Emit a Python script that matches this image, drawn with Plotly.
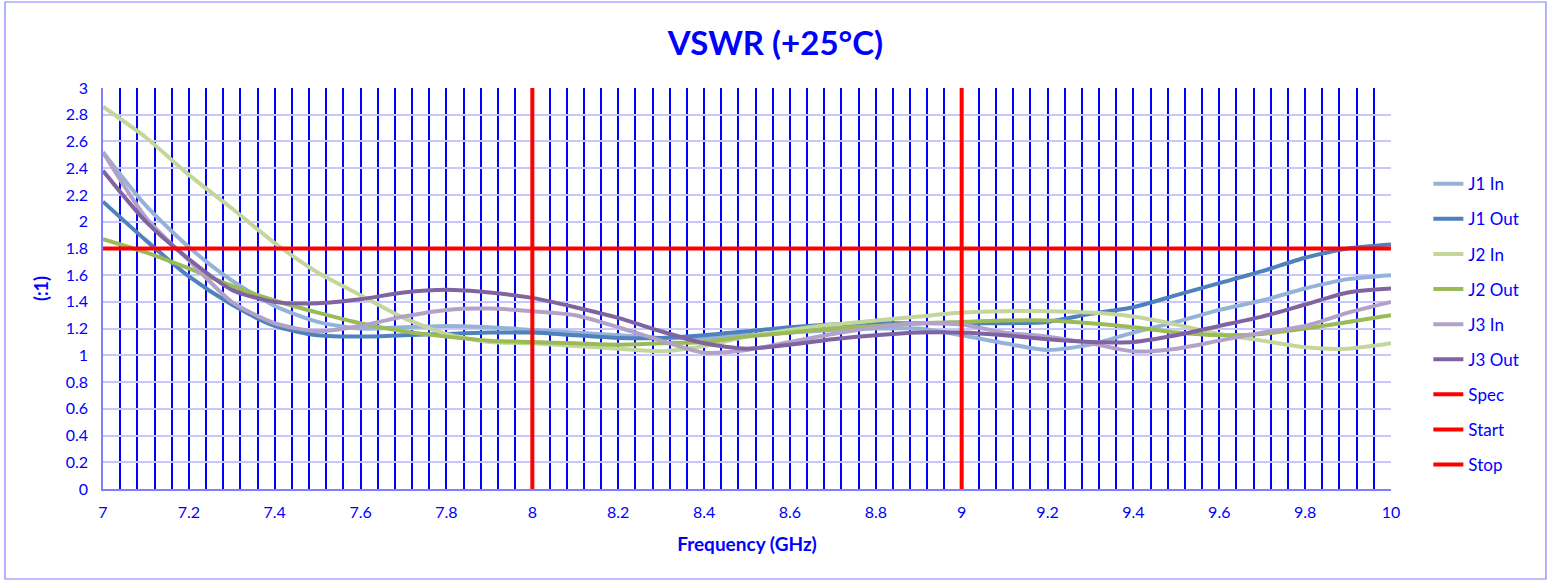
import plotly.graph_objects as go

# frequency points (GHz)
freq = [7.0, 7.1, 7.2, 7.3, 7.4, 7.5, 7.6, 7.7, 7.8, 7.9, 8.0,
        8.1, 8.2, 8.3, 8.4, 8.5, 8.6, 8.7, 8.8, 8.9, 9.0,
        9.1, 9.2, 9.3, 9.4, 9.5, 9.6, 9.7, 9.8, 9.9, 10.0]

# VSWR readings per port
j1_in = [2.52, 2.12, 1.81, 1.56, 1.37, 1.25, 1.20, 1.21, 1.22, 1.21, 1.19,
         1.17, 1.15, 1.13, 1.13, 1.15, 1.17, 1.19, 1.20, 1.20, 1.15,
         1.09, 1.04, 1.08, 1.17, 1.25, 1.34, 1.41, 1.50, 1.57, 1.60]
j1_out = [2.15, 1.86, 1.59, 1.38, 1.22, 1.15, 1.14, 1.15, 1.16, 1.17, 1.17,
          1.15, 1.13, 1.13, 1.15, 1.18, 1.21, 1.23, 1.24, 1.24, 1.24,
          1.24, 1.25, 1.31, 1.36, 1.45, 1.54, 1.63, 1.73, 1.80, 1.83]
j2_in = [2.86, 2.63, 2.35, 2.10, 1.84, 1.62, 1.45, 1.28, 1.16, 1.10, 1.09,
         1.07, 1.05, 1.03, 1.07, 1.14, 1.19, 1.23, 1.26, 1.29, 1.32,
         1.33, 1.33, 1.32, 1.29, 1.23, 1.16, 1.11, 1.06, 1.05, 1.09]
j2_out = [1.87, 1.77, 1.65, 1.52, 1.41, 1.32, 1.24, 1.18, 1.14, 1.11, 1.10,
          1.09, 1.08, 1.09, 1.10, 1.14, 1.17, 1.20, 1.22, 1.24, 1.25,
          1.26, 1.26, 1.24, 1.21, 1.17, 1.15, 1.16, 1.20, 1.25, 1.30]
j3_in = [2.52, 2.03, 1.71, 1.40, 1.24, 1.18, 1.22, 1.29, 1.34, 1.35, 1.33,
         1.30, 1.21, 1.11, 1.02, 1.04, 1.10, 1.16, 1.21, 1.24, 1.23,
         1.17, 1.14, 1.09, 1.03, 1.05, 1.11, 1.17, 1.22, 1.32, 1.40]
j3_out = [2.38, 2.00, 1.72, 1.49, 1.40, 1.39, 1.42, 1.47, 1.49, 1.47, 1.43,
          1.36, 1.28, 1.18, 1.09, 1.05, 1.08, 1.12, 1.15, 1.17, 1.17,
          1.15, 1.12, 1.10, 1.10, 1.15, 1.22, 1.29, 1.38, 1.47, 1.50]

# limits
spec_level = 1.8
start_freq = 8.0
stop_freq = 9.0
freq_min, freq_max = 7.0, 10.0
vswr_min, vswr_max = 0, 3

series = [
    ('J1 In', j1_in, '#95b3d7'),
    ('J1 Out', j1_out, '#4f81bd'),
    ('J2 In', j2_in, '#c3d69b'),
    ('J2 Out', j2_out, '#9bbb59'),
    ('J3 In', j3_in, '#b3a2c7'),
    ('J3 Out', j3_out, '#8064a2'),
]

blue = '#0000ff'
font_name = 'Lato, Carlito, Calibri, sans-serif'

fig = go.Figure()
for i, (name, vals, color) in enumerate(series):
    fig.add_trace(go.Scatter(x=freq, y=vals, mode='lines', name=name,
                             legendgroup=f'g{i}',
                             line=dict(color=color, width=4, shape='spline', smoothing=0.7)))

#limit lines
fig.add_trace(go.Scatter(x=[freq_min, freq_max], y=[spec_level, spec_level], mode='lines',
                         name='Spec', legendgroup='g6', line=dict(color='#ff0000', width=4)))
fig.add_trace(go.Scatter(x=[start_freq, start_freq], y=[vswr_min, vswr_max], mode='lines',
                         name='Start', legendgroup='g7', line=dict(color='#ff0000', width=4)))
fig.add_trace(go.Scatter(x=[stop_freq, stop_freq], y=[vswr_min, vswr_max], mode='lines',
                         name='Stop', legendgroup='g8', line=dict(color='#ff0000', width=4)))

fig.update_layout(
    width=1551, height=581,
    margin=dict(l=103, r=160, t=88, b=92),
    paper_bgcolor='white', plot_bgcolor='white',
    font=dict(family=font_name, color=blue, size=16),
    title=dict(text='<b>VSWR (+25°C)</b>', x=0.5, xref='container', y=0.926,
               yref='container', yanchor='middle', xanchor='center',
               font=dict(size=33, color=blue, family=font_name)),
    legend=dict(x=1.029, y=0.805, xanchor='left', yanchor='top',
                font=dict(size=17, color=blue), tracegroupgap=10,
                bgcolor='rgba(0,0,0,0)'),
    showlegend=True,
)

fig.update_xaxes(range=[freq_min, freq_max], tick0=7, dtick=0.2, ticks='',
                 showgrid=True, gridcolor=blue, gridwidth=1.6,
                 minor=dict(tick0=7, dtick=0.04, showgrid=True, gridcolor=blue, gridwidth=1.6),
                 showline=True, linecolor='#7f7fff', linewidth=1.5,
                 tickfont=dict(size=16, color=blue), ticklabelstandoff=8,
                 title=dict(text='<b>Frequency (GHz)</b>', font=dict(size=19, color=blue), standoff=18),
                 zeroline=False)
fig.update_yaxes(range=[vswr_min, vswr_max], tick0=0, dtick=0.2, ticks='',
                 showgrid=True, gridcolor='#c8c8ff', gridwidth=2,
                 showline=True, linecolor='#7f7fff', linewidth=1.5,
                 tickfont=dict(size=16, color=blue), ticklabelstandoff=10,
                 title=dict(text='<b>(:1)</b>', font=dict(size=18, color=blue), standoff=12),
                 zeroline=False)

# outer chart border
fig.add_shape(type='rect', xref='paper', yref='paper',
              x0=-0.0761, x1=1.1203, y0=-0.2244, y1=1.2145,
              line=dict(color='#8080ff', width=1.2), fillcolor='rgba(0,0,0,0)')

fig.write_html('out.html', config={'displayModeBar': False},
               post_script="document.body.style.margin='0';")
